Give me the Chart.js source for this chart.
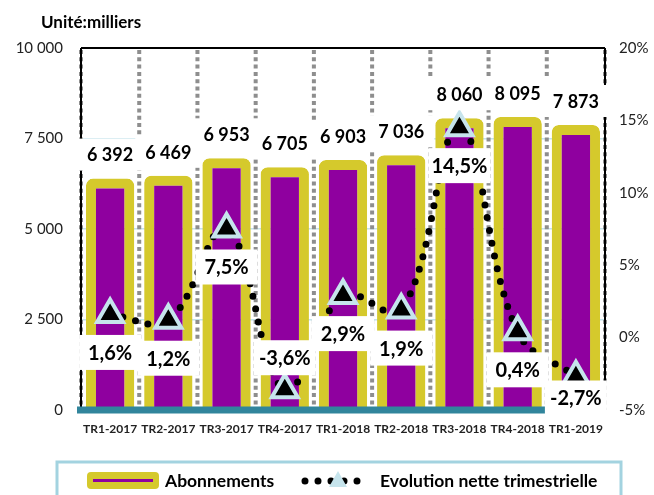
<!DOCTYPE html>
<html>
<head>
<meta charset="utf-8">
<script src="https://cdn.jsdelivr.net/npm/chart.js@4.4.1/dist/chart.umd.min.js"></script>
<style>
    html, body { margin: 0; padding: 0; background: #fff; }
    #wrap { width: 654px; height: 495px; }
</style>
</head>
<body>
<div id="wrap"><canvas id="chart" width="654" height="495"></canvas></div>
<script>
// Données du graphique
const trimestres = ['TR1-2017', 'TR2-2017', 'TR3-2017', 'TR4-2017', 'TR1-2018', 'TR2-2018', 'TR3-2018', 'TR4-2018', 'TR1-2019'];
const abonnements = [6392, 6469, 6953, 6705, 6903, 7036, 8060, 8095, 7873];
const evolution = [1.6, 1.2, 7.5, -3.6, 2.9, 1.9, 14.5, 0.4, -2.7];
const ticksGauche = [0, 2500, 5000, 7500, 10000];
const ticksDroite = [-5, 0, 5, 10, 15, 20];

// Couleurs
const violet = '#8f009f';
const jaune = '#d5c92c';
const bleuClair = '#c6e4ec';
const sarcelle = '#31859c';
const police = 'Lato, "Open Sans", sans-serif';

function formatMilliers(v) {
    return String(v).replace(/\B(?=(\d{3})+(?!\d))/g, ' ');
}

function formatPct(v) {
    return v.toFixed(1).replace('.', ',') + '%';
}

// Boîte blanche avec texte
function boite(ctx, x, y, w, h, texte) {
    ctx.fillStyle = '#fff';
    ctx.fillRect(x - w / 2, y - h / 2, w, h);
    ctx.fillStyle = '#000';
    ctx.fillText(texte, x, y + 1);
}

function ligne(ctx, x1, y1, x2, y2) {
    ctx.beginPath();
    ctx.moveTo(x1, y1);
    ctx.lineTo(x2, y2);
    ctx.stroke();
}

// Grille pointillée, bordures, axe du bas, étiquettes, légende et titre
const decor = {
    id: 'decor',
    beforeDatasetsDraw(chart) {
        const ctx = chart.ctx;
        const area = chart.chartArea;
        const xs = chart.scales.x;
        ctx.save();

        // lignes verticales pointillées entre les trimestres
        ctx.strokeStyle = '#8e8e8e';
        ctx.lineWidth = 4;
        ctx.setLineDash([4, 3.3]);
        for (let i = 0; i <= trimestres.length; i++) {
            let x;
            if (i === 0) x = area.left;
            else if (i === trimestres.length) x = area.right;
            else x = (xs.getPixelForValue(i - 1) + xs.getPixelForValue(i)) / 2;
            ligne(ctx, x, area.top + 2, x, area.bottom);
        }
        ctx.setLineDash([]);

        // bordures noires
        ctx.strokeStyle = '#000';
        ctx.lineWidth = 2;
        ligne(ctx, area.left, area.top, area.right, area.top);
        ligne(ctx, area.left, area.top, area.left, area.bottom);
        ligne(ctx, area.right, area.top, area.right, area.bottom);
        ctx.restore();
    },
    afterDatasetsDraw(chart) {
        const ctx = chart.ctx;
        const area = chart.chartArea;
        ctx.save();

        // axe du bas épais
        ctx.strokeStyle = sarcelle;
        ctx.lineWidth = 7;
        ligne(ctx, area.left - 4, area.bottom, area.right, area.bottom);

        ctx.textAlign = 'center';
        ctx.textBaseline = 'middle';

        // étiquettes des barres
        ctx.font = 'bold 18px ' + police;
        const barres = chart.getDatasetMeta(0).data;
        barres.forEach((b, i) => {
            const y = chart.scales.y.getPixelForValue(abonnements[i]) - 24;
            boite(ctx, b.x, y, 66, 32, formatMilliers(abonnements[i]));
        });

        // étiquettes des pourcentages
        ctx.font = 'bold 20px ' + police;
        const points = chart.getDatasetMeta(1).data;
        points.forEach((p, i) => {
            let y = p.y + 38;
            if (p.y > area.bottom - 30) y = p.y - 32;
            y = Math.min(y, area.bottom - 12);
            boite(ctx, p.x, y, 62, 35, formatPct(evolution[i]));
        });
        ctx.restore();
    },
    afterDraw(chart) {
        const ctx = chart.ctx;
        ctx.save();

        // titre
        ctx.font = 'bold 17px ' + police;
        ctx.fillStyle = '#000';
        ctx.textAlign = 'left';
        ctx.textBaseline = 'middle';
        ctx.fillText('Unité:milliers', 41, 23);

        // légende
        ctx.strokeStyle = '#a3d3e0';
        ctx.lineWidth = 3;
        ctx.strokeRect(57, 462, 564, 44);

        ctx.fillStyle = jaune;
        ctx.beginPath();
        ctx.roundRect(87, 472, 72, 17, 4);
        ctx.fill();
        ctx.fillStyle = violet;
        ctx.fillRect(93, 479, 60, 3);

        ctx.font = 'bold 17.5px ' + police;
        ctx.fillStyle = '#000';
        ctx.fillText('Abonnements', 165, 481);

        ctx.strokeStyle = '#000';
        ctx.lineWidth = 7;
        ctx.lineCap = 'round';
        ctx.setLineDash([0, 13]);
        ligne(ctx, 305, 481, 362, 481);
        ctx.setLineDash([]);

        ctx.fillStyle = bleuClair;
        ctx.beginPath();
        ctx.moveTo(338, 471);
        ctx.lineTo(347, 487);
        ctx.lineTo(329, 487);
        ctx.closePath();
        ctx.fill();

        ctx.fillStyle = '#000';
        ctx.fillText('Evolution nette trimestrielle', 380, 481);
        ctx.restore();
    }
};

const ctx = document.getElementById('chart').getContext('2d');
const chart = new Chart(ctx, {
    data: {
        labels: trimestres,
        datasets: [{
            type: 'bar',
            label: 'Abonnements',
            data: abonnements,
            yAxisID: 'y',
            backgroundColor: violet,
            borderColor: jaune,
            borderWidth: 10,
            borderRadius: 7,
            borderSkipped: 'start',
            barPercentage: 0.83,
            categoryPercentage: 1,
            order: 2
        }, {
            type: 'line',
            label: 'Evolution nette trimestrielle',
            data: evolution,
            yAxisID: 'y1',
            borderColor: '#000',
            borderWidth: 7,
            borderDash: [0, 13],
            borderCapStyle: 'round',
            tension: 0.4,
            fill: false,
            pointStyle: 'triangle',
            pointRadius: 15,
            pointBackgroundColor: '#000',
            pointBorderColor: bleuClair,
            pointBorderWidth: 4,
            order: 1
        }]
    },
    options: {
        responsive: false,
        animation: false,
        layout: { padding: { top: 48, left: 0, right: 0, bottom: 0 } },
        plugins: {
            legend: { display: false },
            tooltip: { enabled: false }
        },
        scales: {
            x: {
                grid: { display: false, drawTicks: false },
                border: { display: false },
                ticks: {
                    padding: 12,
                    color: '#222',
                    font: { family: police, size: 12, weight: 'bold' },
                    maxRotation: 0
                },
                afterFit(scale) { scale.height = 85; }
            },
            y: {
                position: 'left',
                min: 0,
                max: 10000,
                afterBuildTicks(scale) { scale.ticks = ticksGauche.map(v => ({ value: v })); },
                grid: { color: bleuClair, lineWidth: 1.5, drawTicks: false },
                border: { display: false },
                ticks: {
                    padding: 18,
                    color: '#222',
                    font: { family: police, size: 15 },
                    callback: v => formatMilliers(v)
                },
                afterFit(scale) { scale.width = 81; }
            },
            y1: {
                position: 'right',
                min: -5,
                max: 20,
                afterBuildTicks(scale) { scale.ticks = ticksDroite.map(v => ({ value: v })); },
                grid: { drawOnChartArea: false, drawTicks: false },
                border: { display: false },
                ticks: {
                    padding: 14,
                    color: '#222',
                    font: { family: police, size: 15 },
                    callback: v => v + '%'
                },
                afterFit(scale) { scale.width = 49; }
            }
        }
    },
    plugins: [decor]
});
</script>
</body>
</html>
